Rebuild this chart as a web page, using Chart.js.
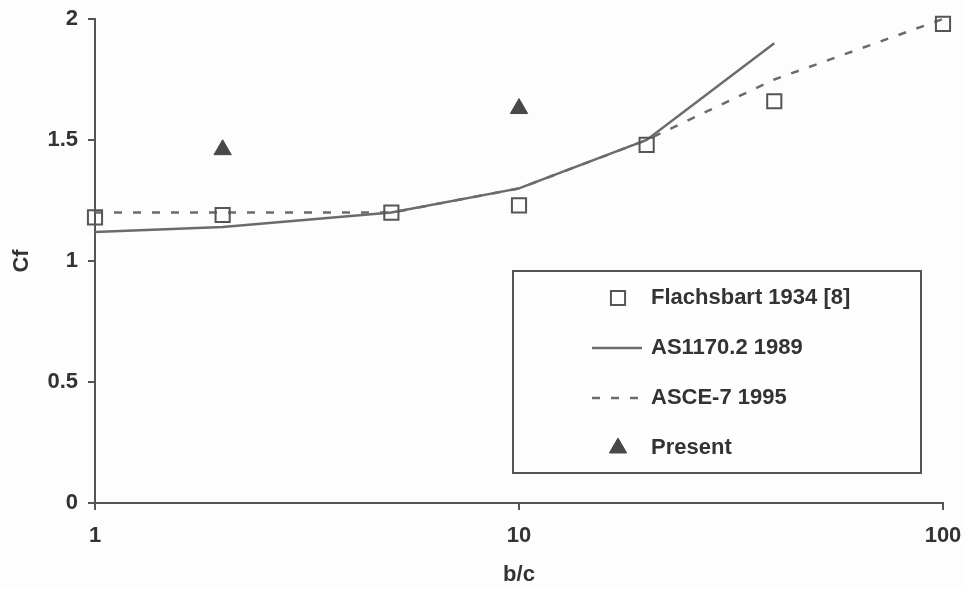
<!DOCTYPE html>
<html>
<head>
<meta charset="utf-8">
<script src="https://cdn.jsdelivr.net/npm/chart.js@4.4.0/dist/chart.umd.min.js"></script>
<style>
    html, body { margin: 0; padding: 0; background: #fdfdfd; }
    #wrap { width: 966px; height: 590px; }
</style>
</head>
<body>
<div id="wrap"><canvas id="cfChart" width="966" height="590"></canvas></div>
<script>
// Force coefficient vs aspect ratio b/c
const flachsbartX = [1, 2, 5, 10, 20, 40, 100];
const flachsbartCf = [1.18, 1.19, 1.20, 1.23, 1.48, 1.66, 1.98];
const asX = [1, 2, 5, 10, 20, 40];
const asCf = [1.12, 1.14, 1.20, 1.30, 1.50, 1.90];
const asceX = [1, 2, 5, 10, 20, 40, 100];
const asceCf = [1.20, 1.20, 1.20, 1.30, 1.50, 1.75, 2.00];
const presentX = [2, 10];
const presentCf = [1.46, 1.63];
const xTicks = [1, 10, 100];

const AXIS = '#555555';
const INK = '#333333';
const LINE = '#6b6b6b';
const FONT = { family: '"Liberation Sans", Arial, sans-serif', size: 22, weight: 'bold' };

const pts = (xs, ys) => xs.map((x, i) => ({ x: x, y: ys[i] }));

// legend drawn inside the plot, framed box
const boxLegend = {
    id: 'boxLegend',
    afterDraw(chart, args, opts) {
        const ctx = chart.ctx;
        ctx.save();
        ctx.strokeStyle = AXIS;
        ctx.lineWidth = 2;
        ctx.fillStyle = '#fefefe';
        ctx.fillRect(opts.left, opts.top, opts.width, opts.height);
        ctx.strokeRect(opts.left, opts.top, opts.width, opts.height);

        ctx.font = 'bold 22px "Liberation Sans", Arial, sans-serif';
        ctx.textBaseline = 'middle';
        chart.data.datasets.forEach((ds, i) => {
            const y = opts.top + opts.firstRow + i * opts.rowGap;
            const mx = opts.left + opts.markerX;
            if (ds.showLine) {
                ctx.beginPath();
                ctx.strokeStyle = ds.borderColor;
                ctx.lineWidth = ds.borderWidth;
                ctx.setLineDash(ds.borderDash || []);
                ctx.moveTo(mx - 26, y);
                ctx.lineTo(mx + 24, y);
                ctx.stroke();
                ctx.setLineDash([]);
            } else {
                ctx.strokeStyle = ds.pointBorderColor;
                ctx.fillStyle = ds.pointBackgroundColor;
                ctx.lineWidth = ds.pointBorderWidth;
                Chart.helpers.drawPoint(ctx, {
                    pointStyle: ds.pointStyle,
                    radius: ds.pointRadius,
                    rotation: 0,
                    borderWidth: ds.pointBorderWidth
                }, mx, y);
            }
            ctx.fillStyle = INK;
            ctx.textAlign = 'left';
            ctx.fillText(ds.label, opts.left + opts.textX, y);
        });
        ctx.restore();
    }
};

const chart = new Chart(document.getElementById('cfChart'), {
    type: 'scatter',
    data: {
        datasets: [
            {
                label: 'Flachsbart 1934 [8]',
                data: pts(flachsbartX, flachsbartCf),
                showLine: false,
                clip: false,
                pointStyle: 'rect',
                pointRadius: 10,
                pointBorderWidth: 2,
                pointBorderColor: AXIS,
                pointBackgroundColor: 'rgba(0,0,0,0)'
            },
            {
                label: 'AS1170.2 1989',
                data: pts(asX, asCf),
                showLine: true,
                clip: false,
                borderColor: LINE,
                borderWidth: 2.5,
                pointRadius: 0
            },
            {
                label: 'ASCE-7 1995',
                data: pts(asceX, asceCf),
                showLine: true,
                clip: false,
                borderColor: LINE,
                borderWidth: 2.5,
                borderDash: [8, 11],
                pointRadius: 0
            },
            {
                label: 'Present',
                data: pts(presentX, presentCf),
                showLine: false,
                clip: false,
                pointStyle: 'triangle',
                pointRadius: 10,
                pointBorderWidth: 1,
                pointBorderColor: '#484848',
                pointBackgroundColor: '#484848'
            }
        ]
    },
    options: {
        responsive: false,
        animation: false,
        devicePixelRatio: 1,
        layout: { padding: { top: 19, right: 23, left: 0, bottom: 0 } },
        plugins: {
            legend: { display: false },
            tooltip: { enabled: false },
            boxLegend: {
                left: 513, top: 271, width: 408, height: 202,
                firstRow: 27, rowGap: 50, markerX: 105, textX: 138
            }
        },
        scales: {
            x: {
                type: 'logarithmic',
                min: 1,
                max: 100,
                afterBuildTicks: scale => { scale.ticks = xTicks.map(v => ({ value: v })); },
                afterFit: scale => {
                    scale.height = 87;
                    scale.paddingLeft = 0;
                    scale.paddingRight = 0;
                },
                ticks: {
                    color: INK,
                    font: FONT,
                    padding: 13,
                    maxRotation: 0,
                    callback: v => String(v)
                },
                grid: { drawOnChartArea: false, drawTicks: true, tickLength: 7, color: AXIS, lineWidth: 2 },
                border: { display: true, color: AXIS, width: 2 },
                title: { display: true, text: 'b/c', color: INK, font: FONT, padding: { top: 4, bottom: 2 } }
            },
            y: {
                min: 0,
                max: 2,
                afterFit: scale => {
                    scale.width = 95;
                    scale.paddingTop = 0;
                    scale.paddingBottom = 0;
                },
                ticks: { stepSize: 0.5, color: INK, font: FONT, padding: 10, callback: v => String(v) },
                grid: { drawOnChartArea: false, drawTicks: true, tickLength: 7, color: AXIS, lineWidth: 2 },
                border: { display: true, color: AXIS, width: 2 },
                title: { display: true, text: 'Cf', color: INK, font: FONT, padding: { top: 9, bottom: 0 } }
            }
        }
    },
    plugins: [boxLegend]
});
</script>
</body>
</html>
